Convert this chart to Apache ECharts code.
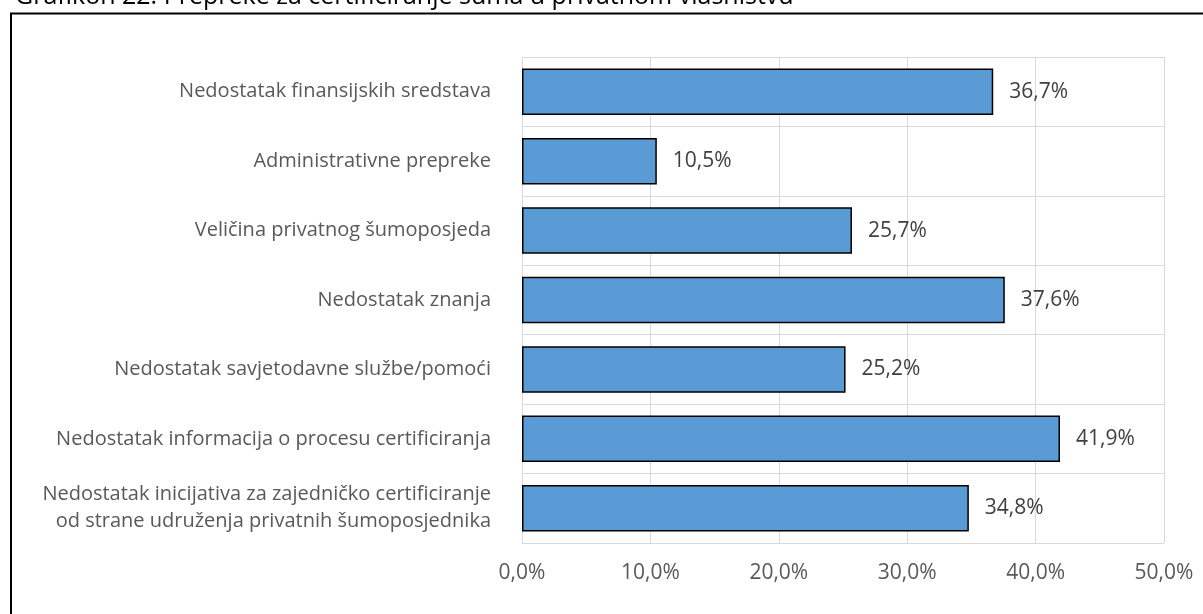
<!DOCTYPE html>
<html>
<head>
<meta charset="utf-8">
<script src="https://cdn.jsdelivr.net/npm/echarts@6/dist/echarts.min.js"></script>
<style>
html,body{margin:0;padding:0;background:#fff;}
#c{width:1203px;height:614px;}
</style>
</head>
<body>
<div id="c"></div>
<script>
const titleText = 'Grafikon 22. Prepreke za certificiranje šuma u privatnom vlasništvu';
const categories = [
  'Nedostatak finansijskih sredstava',
  'Administrativne prepreke',
  'Veličina privatnog šumoposjeda',
  'Nedostatak znanja',
  'Nedostatak savjetodavne službe/pomoći',
  'Nedostatak informacija o procesu certificiranja',
  'Nedostatak inicijativa za zajedničko certificiranje\nod strane udruženja privatnih šumoposjednika'
];
const values = [36.7, 10.5, 25.7, 37.6, 25.2, 41.9, 34.8];
const xTicks = [0, 10, 20, 30, 40, 50];

const fmt = v => v.toFixed(1).replace('.', ',') + '%';
const FONT = 'Open Sans';

const chart = echarts.init(document.getElementById('c'), null, {renderer: 'canvas'});
chart.setOption({
  animation: false,
  backgroundColor: '#ffffff',
  graphic: [
    {
      type: 'rect',
      shape: {x: 11, y: 13.5, width: 1400, height: 800},
      style: {fill: 'none', stroke: '#000', lineWidth: 2},
      silent: true
    },
    {
      type: 'text',
      x: 15, y: 9,
      style: {
        text: titleText,
        fontFamily: FONT, fontSize: 25, fill: '#000',
        verticalAlign: 'bottom', align: 'left'
      },
      silent: true
    }
  ],
  grid: {left: 522, right: 39, top: 57, bottom: 71, containLabel: false},
  xAxis: {
    type: 'value',
    min: xTicks[0], max: xTicks[xTicks.length - 1], interval: 10,
    axisLine: {show: false}, axisTick: {show: false},
    splitLine: {show: true, lineStyle: {color: '#d9d9d9', width: 1}},
    axisLabel: {
      formatter: v => fmt(v), color: '#595959',
      fontFamily: FONT, fontSize: 21, margin: 20
    }
  },
  yAxis: {
    type: 'category', data: categories, inverse: true,
    axisLine: {show: false}, axisTick: {show: false},
    splitLine: {show: true, lineStyle: {color: '#d9d9d9', width: 1}},
    axisLabel: {
      color: '#595959', fontFamily: FONT, fontSize: 20, margin: 31,
      lineHeight: 27, align: 'right'
    }
  },
  series: [{
    type: 'bar', data: values, barCategoryGap: '33%',
    itemStyle: {color: '#5B9BD5', borderColor: '#000', borderWidth: 1.5},
    label: {
      show: true, position: 'right', distance: 16,
      formatter: p => fmt(p.value), color: '#404040',
      fontFamily: FONT, fontSize: 21
    }
  }]
});
</script>
</body>
</html>
